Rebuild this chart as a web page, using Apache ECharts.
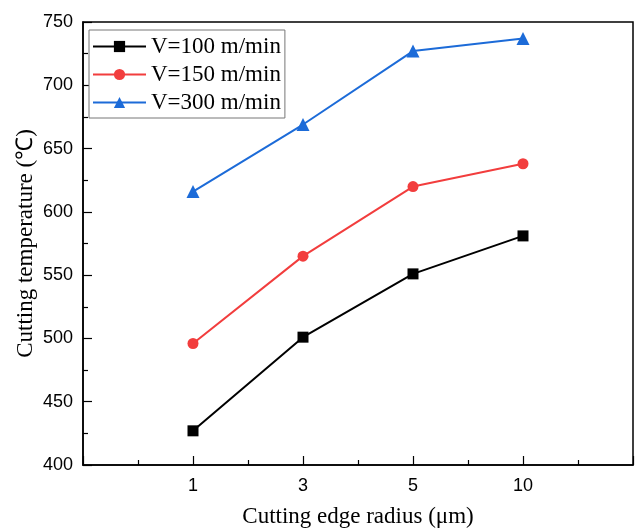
<!DOCTYPE html>
<html>
<head>
<meta charset="utf-8">
<script src="https://cdn.jsdelivr.net/npm/echarts@6/dist/echarts.min.js"></script>
<style>
  html, body { margin: 0; padding: 0; background: #fff; }
  #chart { width: 640px; height: 528px; }
</style>
</head>
<body>
<div id="chart"></div>
<script>
// Cutting edge radius (µm) — plotted at evenly spaced positions 1..4
const radiusLabels = ['1', '3', '5', '10'];
// Cutting temperature (°C) for each cutting speed
const tempV100 = [427, 501, 551, 581];
const tempV150 = [496, 565, 620, 638];
const tempV300 = [616, 669, 727, 737];
const seriesNames = ['V=100 m/min', 'V=150 m/min', 'V=300 m/min'];
const yTicks = { min: 400, max: 750, step: 50 };

const toPoints = vals => vals.map((v, i) => [i + 1, v]);

const serif = 'Liberation Serif';
const sans = 'Liberation Sans';

const chart = echarts.init(document.getElementById('chart'));
chart.setOption({
  animation: false,
  backgroundColor: '#fff',
  grid: { left: 83, right: 7, top: 22, bottom: 63, show: false, containLabel: false, outerBoundsMode: 'none' },
  legend: {
    orient: 'vertical',
    left: 89,
    top: 30,
    padding: [5, 4, 4, 3],
    itemGap: 5,
    itemWidth: 53,
    itemHeight: 14,
    borderColor: '#777',
    borderWidth: 1,
    backgroundColor: '#fff',
    textStyle: { fontFamily: serif, fontSize: 23, color: '#000' },
    data: seriesNames
  },
  xAxis: {
    type: 'value',
    min: 0,
    max: 5,
    interval: 1,
    name: 'Cutting edge radius (μm)',
    nameLocation: 'middle',
    nameGap: 40,
    nameTextStyle: { fontFamily: serif, fontSize: 23, color: '#000' },
    axisLine: { show: true, onZero: false, lineStyle: { color: '#000', width: 1.5 } },
    axisTick: { show: true, inside: true, length: 9, lineStyle: { color: '#000', width: 1.2 } },
    minorTick: { show: true, splitNumber: 2, length: 5, lineStyle: { color: '#000', width: 1.2 } },
    splitLine: { show: false },
    axisLabel: {
      margin: 12,
      fontFamily: sans,
      fontSize: 18,
      color: '#000',
      formatter: v => (Number.isInteger(v) && v >= 1 && v <= radiusLabels.length) ? radiusLabels[v - 1] : ''
    }
  },
  yAxis: {
    type: 'value',
    min: yTicks.min,
    max: yTicks.max,
    interval: yTicks.step,
    name: 'Cutting temperature (℃)',
    nameLocation: 'middle',
    nameGap: 46,
    nameMoveOverlap: false,
    nameTextStyle: { fontFamily: serif, fontSize: 23, color: '#000' },
    axisLine: { show: true, lineStyle: { color: '#000', width: 1.5 } },
    axisTick: { show: true, inside: true, length: 9, lineStyle: { color: '#000', width: 1.2 } },
    minorTick: { show: true, splitNumber: 2, length: 5, lineStyle: { color: '#000', width: 1.2 } },
    splitLine: { show: false },
    axisLabel: { margin: 10, fontFamily: sans, fontSize: 18, color: '#000' }
  },
  graphic: [{
    type: 'rect',
    shape: { x: 83, y: 22, width: 550, height: 443 },
    style: { fill: 'none', stroke: '#000', lineWidth: 1.5 },
    silent: true,
    z: 0
  }],
  series: [
    {
      name: seriesNames[0], type: 'line', data: toPoints(tempV100),
      symbol: 'rect', symbolSize: 11,
      lineStyle: { color: '#000', width: 2 },
      itemStyle: { color: '#000' }
    },
    {
      name: seriesNames[1], type: 'line', data: toPoints(tempV150),
      symbol: 'circle', symbolSize: 11,
      lineStyle: { color: '#f23d3d', width: 2 },
      itemStyle: { color: '#f23d3d' }
    },
    {
      name: seriesNames[2], type: 'line', data: toPoints(tempV300),
      symbol: 'triangle', symbolSize: 13,
      lineStyle: { color: '#1c6bd8', width: 2 },
      itemStyle: { color: '#1c6bd8' }
    }
  ]
});
</script>
</body>
</html>
